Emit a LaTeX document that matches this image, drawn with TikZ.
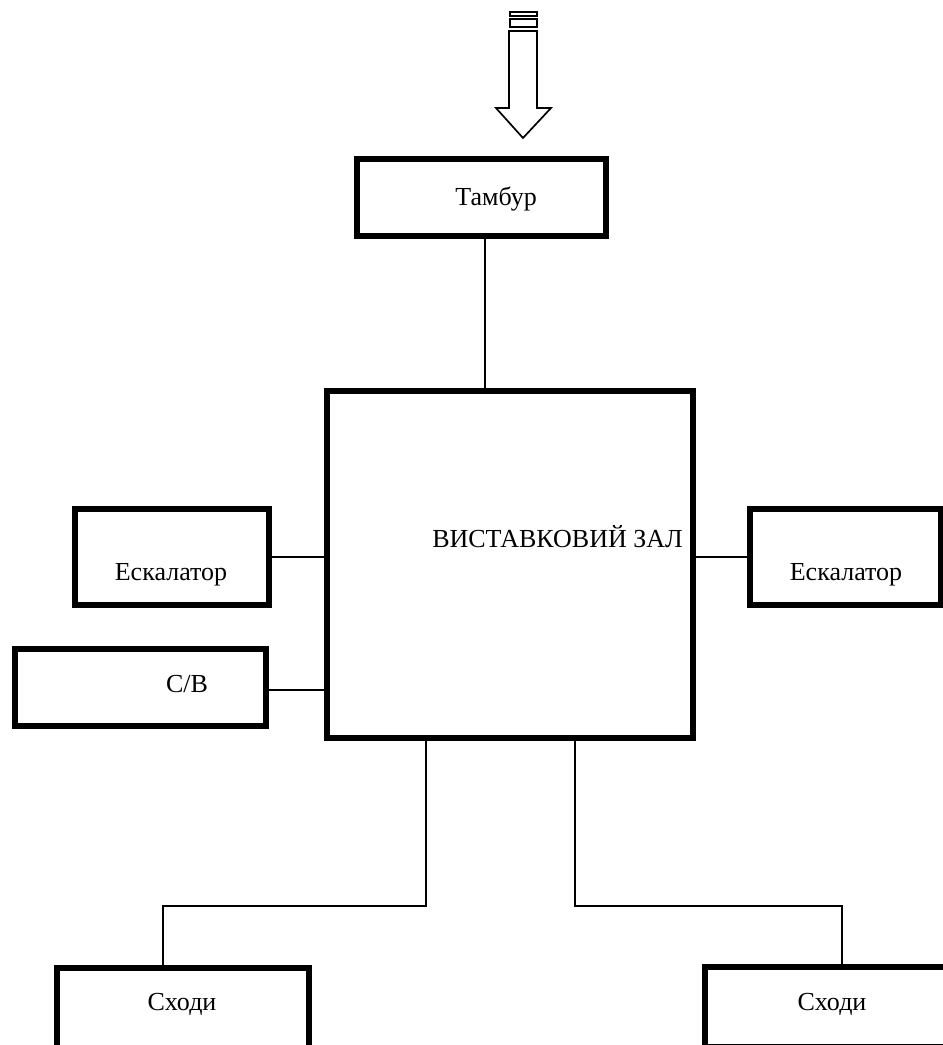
\documentclass[tikz,border=0pt]{standalone}
\usepackage{fontspec}
\setmainfont{Liberation Serif}
\usetikzlibrary{positioning,calc}

\begin{document}
\begin{tikzpicture}[x=1pt,y=-1pt,
      room/.style n args={2}{draw,line width=5.5pt,minimum width=#1,minimum height=#2,inner sep=0pt,outer sep=0pt},
      lbl/.style={inner sep=0pt,anchor=base,font=\rmfamily\fontsize{26}{31}\selectfont},
      link/.style={line width=1.9pt},
      entrance/.style={line width=1.7pt,line join=miter}]
    \useasboundingbox (0,0) rectangle (943,1045);

    % entrance arrow
    \draw[entrance] (510,12) rectangle (537,16);
    \draw[entrance] (510,19) rectangle (537,27);
    \draw[entrance] (509,31) -- (509,108) -- (496,108) -- (523,138) -- (551,108) -- (537,108) -- (537,31) -- cycle;

    \node[room={249pt}{77pt}] (tambur) at (481.5,197.5) {};
    \node[lbl] (tamburT) at (496,205) {Тамбур};

    \node[room={366pt}{347pt}] (zal) at (510,564.5) {};
    \node[lbl] (zalT) at (557.5,547) {ВИСТАВКОВИЙ ЗАЛ};

    \node[room={194pt}{96pt}] (escL) at (172,557) {};
    \node[lbl] (escLT) at (171,580) {Ескалатор};
    \node[room={191pt}{96pt}] (escR) at (845.5,557) {};
    \node[lbl] (escRT) at (846,580) {Ескалатор};

    \node[room={251pt}{77pt}] (sv) at (140.5,687.5) {};
    \node[lbl] (svT) at (187,692) {С/В};

    \node[room={252pt}{80pt}] (stairsL) at (183,1008) {};
    \node[lbl] (stairsLT) at (182,1010) {Сходи};
    \node[room={255pt}{80pt}] (stairsR) at (832.5,1007) {};
    \node[lbl] (stairsRT) at (832,1010) {Сходи};

    \coordinate (entry) at (485,0);
    \draw[link] (tambur.south -| entry) -- (zal.north -| entry);
    \draw[link] (escL.east) -- (escL.east -| zal.west);
    \draw[link] (escR.west) -- (escR.west -| zal.east);
    \coordinate (svY) at (0,690);
    \draw[link] (sv.east |- svY) -- (zal.west |- svY);

    \coordinate (bendL) at (426,906);
    \coordinate (dropL) at (163,906);
    \draw[link] (zal.south -| bendL) -- (bendL) -- (dropL) -- (stairsL.north -| dropL);
    \coordinate (bendR) at (575,906);
    \coordinate (dropR) at (842,906);
    \draw[link] (zal.south -| bendR) -- (bendR) -- (dropR) -- (stairsR.north -| dropR);
  \end{tikzpicture}
\end{document}
